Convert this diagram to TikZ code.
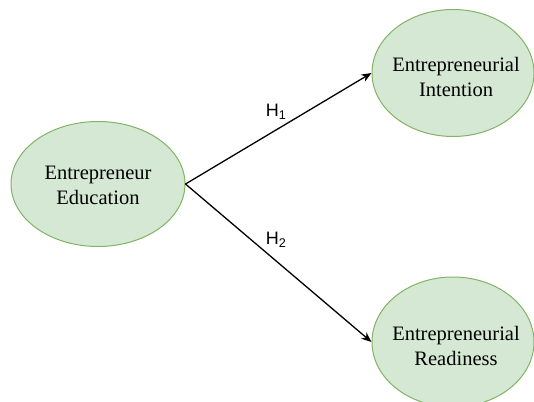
\documentclass[tikz,border=0pt]{standalone}
\usepackage{fontspec}
\setmainfont{Liberation Serif}
\newfontfamily\labelfont{Liberation Sans}
\usetikzlibrary{shapes.geometric,arrows.meta}
\definecolor{nodefill}{HTML}{D5E8D4}
\definecolor{nodeline}{HTML}{82B366}
\begin{document}
\begin{tikzpicture}[x=1pt,y=-1pt,
  construct/.style={ellipse, draw=nodeline, fill=nodefill, line width=1pt, inner sep=0pt},
  caption/.style={align=center, inner sep=0pt, font=\fontsize{20.5}{25}\selectfont},
  path/.style={-{Stealth[length=10pt,width=8pt,inset=3pt]}, line width=1.3pt, black},
  hyp/.style={inner sep=0pt, font=\labelfont\fontsize{18}{20}\selectfont}]
\useasboundingbox (0,0) rectangle (534,401);
\clip (0,0) rectangle (534,401);
% constructs
\node[construct, minimum width=174pt, minimum height=125pt] (edu) at (98,184) {};
\node[construct, minimum width=162pt, minimum height=127pt] (int) at (453,73) {};
\node[construct, minimum width=162pt, minimum height=130pt] (rea) at (453,342) {};
\node[caption] (eduT) at (98,185.5) {Entrepreneur\\Education};
\node[caption] (intT) at (456,76.5) {Entrepreneurial\\Intention};
\node[caption] (reaT) at (456,346) {Entrepreneurial\\Readiness};
% hypothesised paths
\draw[path] (edu.east) -- (int.west);
\draw[path] (edu.east) -- (rea.west);
\node[hyp] (h1) at (276,112) {H\textsubscript{1}};
\node[hyp] (h2) at (276,240) {H\textsubscript{2}};
\end{tikzpicture}
\end{document}
